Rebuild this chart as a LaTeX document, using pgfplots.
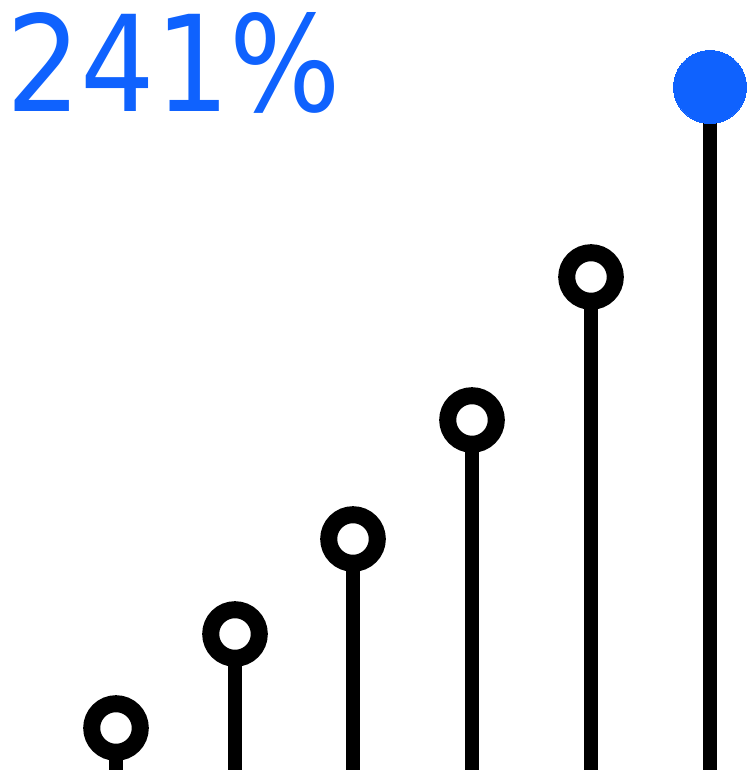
\documentclass[border=0pt]{standalone}
\usepackage{pgfplots}
\pgfplotsset{compat=1.18}
\usepackage{fontspec}
\setmainfont{DejaVu Sans}
\definecolor{plexblue}{HTML}{0F62FE}

\begin{document}
\begin{tikzpicture}
\begin{axis}[
    width=754bp, height=770bp,
    scale only axis,
    hide axis,
    xmin=0, xmax=754,
    ymin=0, ymax=770,
    clip=false
]
% stems
\addplot[ycomb, black, line width=14bp, mark=none]
    coordinates {(116,42) (235,136) (353,231) (472,350) (591,493) (710,683)};
% open rings
\addplot[only marks, mark=*, mark size=24.3bp,
    mark options={draw=black, fill=white, line width=17bp}]
    coordinates {(116,42) (235,136) (353,231) (472,350) (591,493)};
% highlighted last point
\addplot[only marks, plexblue, mark=*, mark size=36.5bp,
    mark options={draw=plexblue, fill=plexblue, line width=0pt}]
    coordinates {(710,683)};
\node[anchor=base west, inner sep=0pt, text=plexblue]
    at (axis cs:6,658) {\resizebox{335bp}{99bp}{241\%}};
\end{axis}
\pgfresetboundingbox
\path (current axis.south west) rectangle (current axis.north east);
\end{tikzpicture}
\end{document}
